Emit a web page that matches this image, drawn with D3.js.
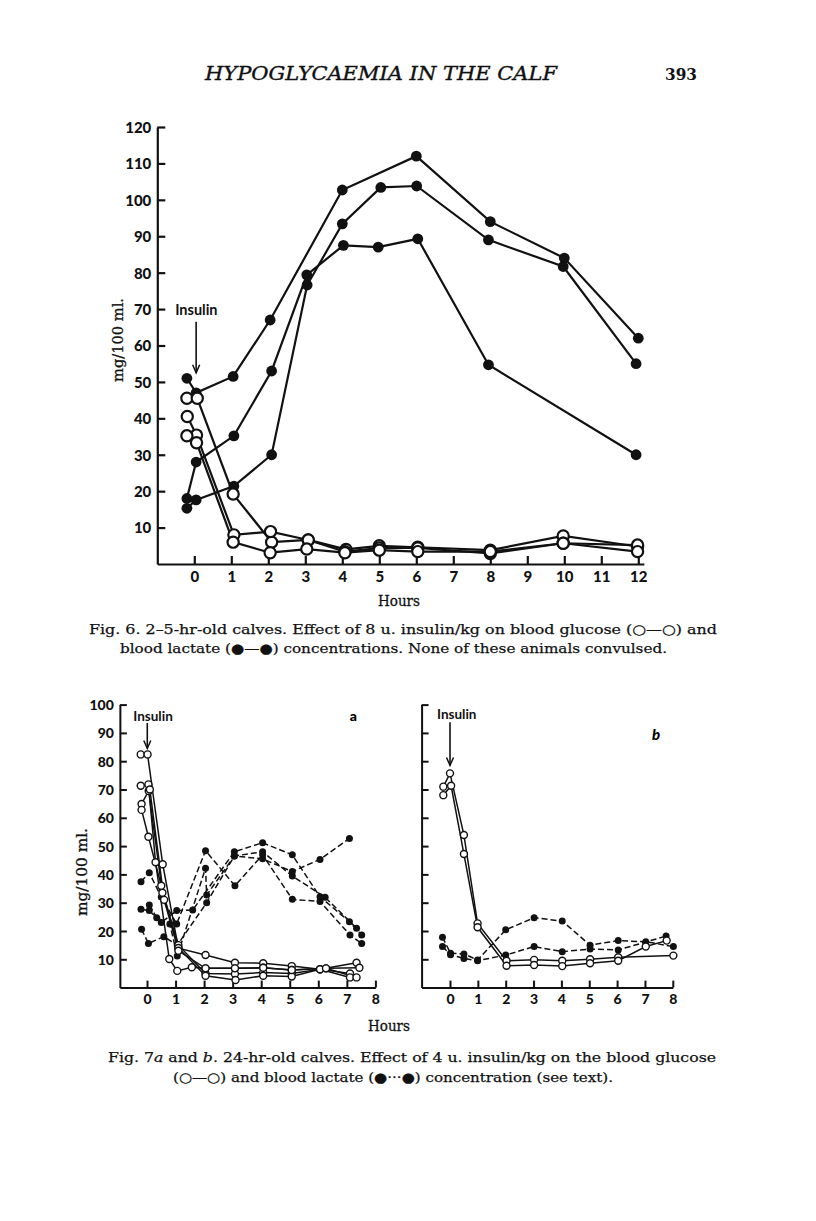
<!DOCTYPE html>
<html><head><meta charset="utf-8">
<script src="https://cdn.jsdelivr.net/npm/d3@7"></script>
<style>body{margin:0;background:#fff} svg{display:block}</style>
</head><body>
<svg id="c" width="816" height="1221"></svg>
<script>
// ---------- DATA ----------
const headerTitle = "HYPOGLYCAEMIA IN THE CALF";
const pageNumber = "393";

// Fig. 6
const fig6YTicks = [10,20,30,40,50,60,70,80,90,100,110,120];
const fig6XTicks = [0,1,2,3,4,5,6,7,8,9,10,11,12];
const fig6Lactate1 = [[-0.2,51],[0.05,47],[1.05,51.5],[2.05,67],[4,102.7],[6,112],[8,94],[10,84],[12,62]];
const fig6Lactate2 = [[-0.2,18],[0.05,28],[1.07,35.2],[2.09,53],[3.04,79.4],[4.03,87.5],[4.97,87],[6.04,89.3],[7.95,54.7],[11.94,30]];
const fig6Lactate3 = [[-0.2,15.3],[0.05,17.6],[1.07,21.4],[2.09,30],[3.05,76.6],[4,93.4],[5.04,103.4],[6.01,103.8],[7.95,89],[9.97,81.7],[11.94,55]];
const fig6Glucose1 = [[-0.2,45.5],[0.08,45.5],[1.05,19.2],[2.09,6.0],[3.08,6.6],[4.1,4.0],[5,5.0],[6.04,4.6],[8,3.8],[9.97,7.7],[11.98,4.8]];
const fig6Glucose2 = [[-0.19,40.5],[0.06,35.4],[1.07,8.0],[2.06,8.9],[3.08,6.6],[4.07,3.4],[5,4.4],[6.04,4.4],[8,2.9],[9.97,5.7],[11.98,5.2]];
const fig6Glucose3 = [[-0.2,35.2],[0.06,33.3],[1.05,6.0],[2.05,3.1],[3.04,4.1],[4.07,3.1],[5,3.8],[6.04,3.4],[8,3.4],[9.97,5.7],[11.98,3.4]];

// Fig. 7a
const fig7YTicks = [10,20,30,40,50,60,70,80,90,100];
const fig7XTicks = [0,1,2,3,4,5,6,7,8];
const fig7aGlucose1 = [[-0.22,82.4],[0.02,82.4],[0.55,43.6],[1.1,13.9],[2.05,11.5],[3.08,8.8],[4.07,8.6],[5.07,7.6],[6.06,6.5],[7.34,8.8]];
const fig7aGlucose2 = [[-0.22,71.3],[0.05,71.8],[0.3,44.3],[0.78,10.1],[1.06,5.9],[1.57,7.2],[2.05,6.8],[3.08,6.8],[4.07,7.0],[5.07,6.2],[6.27,6.8],[7.44,7.0]];
const fig7aGlucose3 = [[-0.19,64.9],[0.06,69.5],[0.54,33.5],[1.1,15],[2.05,5.0],[3.08,4.8],[4.07,5.3],[5.07,5.0],[6.06,6.5],[7.11,5.0]];
const fig7aGlucose4 = [[-0.19,62.8],[0.05,53.3],[0.5,36],[1.1,14],[2.05,4.2],[3.1,2.7],[4.07,4.2],[5.07,3.9],[6.06,6.5],[7.11,3.6]];
const fig7aGlucose5 = [[0.1,70],[0.6,31],[1.1,13],[2.05,6.8],[3.08,6.8],[4.07,7.0],[5.07,6.2],[6.27,6.8],[7.34,3.6]];
const fig7aLactate1 = [[-0.21,37.4],[0.08,40.6],[0.5,32],[1.04,22.5],[2.05,48.4],[3.08,36],[4.05,46.9],[5.09,31.2],[6.06,30.4],[7.11,18.6],[7.52,15.6]];
const fig7aLactate2 = [[-0.21,27.7],[0.08,27.2],[0.5,23],[1.04,27.2],[1.6,27.4],[3.06,48],[4.05,51.2],[5.09,46.9],[6.06,32.1],[7.09,23.3],[7.52,18.6]];
const fig7aLactate3 = [[-0.19,20.6],[0.05,15.6],[0.59,18],[1.06,15],[2.09,30],[3.06,46.5],[4.05,48],[5.09,39.4],[6.24,31.9],[7.34,21]];
const fig7aLactate4 = [[0.08,29.2],[0.34,24.7],[0.8,22.5],[1.06,11.2],[2.05,42.2],[2.09,32.7],[3.06,46.5],[4.05,45.5],[5.09,41],[6.06,45.3],[7.09,52.7]];

// Fig. 7b
const fig7bGlucose1 = [[-0.24,71],[0,75.7],[0.5,53.9],[0.99,22.7],[2.03,9.5],[3.02,9.8],[4.03,9.5],[5.03,10],[6.04,10.7],[8.02,11.3]];
const fig7bGlucose2 = [[-0.24,68],[0.04,71.3],[0.5,47.2],[0.99,21.3],[2.03,7.7],[3.02,8.0],[4.03,7.6],[5.03,8.6],[6.04,9.5],[7.03,14.5],[7.78,16.6]];
const fig7bLactate1 = [[-0.27,17.8],[0.02,12.1],[0.5,11.9],[0.99,9.75],[2.0,20.4],[3.02,24.7],[4.03,23.5],[5.03,15],[6.04,16.6],[7.03,16.2],[8.02,14.5]];
const fig7bLactate2 = [[-0.27,14.5],[0.02,11.6],[0.5,10.3],[0.99,9.5],[2.0,11.5],[3.02,14.5],[4.03,12.7],[5.03,13.6],[6.04,13.3],[7.76,18.2]];

const yLabel = "mg/100 ml.";
const xLabel = "Hours";
const insulinLabel = "Insulin";

// ---------- DRAW ----------
const svg = d3.select("#c");
const tickFont = "Lato, 'Open Sans', sans-serif";
const serif = "'DejaVu Serif', 'Liberation Serif', serif";
const ink = "#111";

function panel(o) {
  const g = svg.append("g");
  const x = d3.scaleLinear().domain(o.xd).range(o.xr);
  const y = d3.scaleLinear().domain(o.yd).range(o.yr);
  const ya = d3.axisLeft(y).tickValues(o.yTicks).tickSizeInner(-o.tick).tickSizeOuter(0).tickPadding(o.pad)
    .tickFormat(o.yLabels ? d3.format("d") : () => "");
  const xa = d3.axisBottom(x).tickValues(o.xTicks).tickSizeInner(-o.tick).tickSizeOuter(0).tickPadding(o.xpad)
    .tickFormat(d3.format("d"));
  const gy = g.append("g").attr("transform", `translate(${x(o.xd[0])},0)`).call(ya);
  const gx = g.append("g").attr("transform", `translate(0,${y(0)})`).call(xa);
  [gy, gx].forEach(a => {
    a.selectAll("path.domain").attr("stroke", ink).attr("stroke-width", o.aw);
    a.selectAll(".tick line").attr("stroke", ink).attr("stroke-width", o.aw);
    a.selectAll(".tick text").attr("fill", ink).attr("font-family", tickFont)
      .attr("font-weight", 900).attr("font-size", o.fs);
  });
  gy.selectAll(".tick text").attr("dy", "0.36em");
  const line = d3.line().x(d => x(d[0])).y(d => y(d[1]));
  (o.lact || []).forEach(s => g.append("path").attr("d", line(s)).attr("fill", "none")
    .attr("stroke", ink).attr("stroke-width", o.lw).attr("stroke-dasharray", o.dash || null));
  (o.gluc || []).forEach(s => g.append("path").attr("d", line(s)).attr("fill", "none")
    .attr("stroke", ink).attr("stroke-width", o.lw));
  (o.lact || []).forEach(s => g.selectAll(null).data(s).enter().append("circle")
    .attr("cx", d => x(d[0])).attr("cy", d => y(d[1])).attr("r", o.rf).attr("fill", ink));
  (o.gluc || []).forEach(s => g.selectAll(null).data(s).enter().append("circle")
    .attr("cx", d => x(d[0])).attr("cy", d => y(d[1])).attr("r", o.ro).attr("fill", "#fff")
    .attr("stroke", ink).attr("stroke-width", o.cw));
  const ax = x(o.arrow[0]);
  g.append("line").attr("x1", ax).attr("x2", ax).attr("y1", y(o.arrow[1])).attr("y2", y(o.arrow[2]))
    .attr("stroke", ink).attr("stroke-width", 1.6);
  const ty = y(o.arrow[2]);
  g.append("path").attr("d", `M${ax-3.5},${ty-8} L${ax},${ty} L${ax+3.5},${ty-8}`)
    .attr("fill", "none").attr("stroke", ink).attr("stroke-width", 1.5);
  g.append("text").attr("x", ax + o.textDx).attr("y", y(o.arrow[3])).text(insulinLabel)
    .attr("font-family", tickFont).attr("font-weight", 700).attr("font-size", o.ifs).attr("fill", ink);
  return {x, y, g};
}

const p6 = panel({
  xd: [-1, 12.15], xr: [157.3, 157.3 + 13.15 * 37], yd: [0, 120], yr: [564, 127],
  yTicks: fig6YTicks, xTicks: fig6XTicks, yLabels: true, tick: 8, pad: 6, xpad: 7, aw: 2.2, fs: 15,
  lact: [fig6Lactate1, fig6Lactate2, fig6Lactate3], gluc: [fig6Glucose1, fig6Glucose2, fig6Glucose3],
  lw: 2.2, rf: 5.4, ro: 5.6, cw: 2.2,
  arrow: [0.05, 66.5, 52.5, 68.5], textDx: -21, ifs: 14.5
});
const p7a = panel({
  xd: [-0.95, 8], xr: [147 - 0.95 * 28.55, 147 + 8 * 28.55], yd: [0, 100], yr: [987.6, 704.6],
  yTicks: fig7YTicks, xTicks: fig7XTicks, yLabels: true, tick: 7, pad: 6, xpad: 6, aw: 2, fs: 14,
  lact: [fig7aLactate1, fig7aLactate2, fig7aLactate3, fig7aLactate4],
  gluc: [fig7aGlucose1, fig7aGlucose2, fig7aGlucose3, fig7aGlucose4, fig7aGlucose5],
  lw: 1.5, dash: "6,3", rf: 3.5, ro: 3.5, cw: 1.4,
  arrow: [0.01, 93.5, 84.5, 94.3], textDx: -14, ifs: 13.5
});
const p7b = panel({
  xd: [-1.02, 8], xr: [450 - 1.02 * 27.85, 450 + 8 * 27.85], yd: [0, 100], yr: [987.6, 704.6],
  yTicks: fig7YTicks, xTicks: fig7XTicks, yLabels: false, tick: 7, pad: 6, xpad: 6, aw: 2, fs: 14,
  lact: [fig7bLactate1, fig7bLactate2], gluc: [fig7bGlucose1, fig7bGlucose2],
  lw: 1.5, dash: "6,3", rf: 3.5, ro: 3.5, cw: 1.4,
  arrow: [0, 93.8, 78.5, 95], textDx: -13, ifs: 13.5
});

svg.append("text").attr("x", p7a.x(7.1)).attr("y", p7a.y(94.2)).text("a")
  .attr("font-family", tickFont).attr("font-weight", 900).attr("font-size", 14);
svg.append("text").attr("x", p7b.x(7.25)).attr("y", p7b.y(87.5)).text("b")
  .attr("font-family", tickFont).attr("font-weight", 900).attr("font-style", "italic").attr("font-size", 15);

function ylab(cx, cy, len, fs) {
  svg.append("text").attr("transform", `translate(${cx},${cy}) rotate(-90)`).attr("text-anchor", "middle")
    .attr("font-family", serif).attr("font-size", fs).attr("fill", ink).text(yLabel)
    .attr("stroke", ink).attr("stroke-width", 0.3)
    .attr("textLength", len).attr("lengthAdjust", "spacingAndGlyphs");
}
ylab(123, 340, 84, 15);
ylab(87, 872, 88, 15);
function xlab(cx, cy) {
  svg.append("text").attr("x", cx).attr("y", cy).attr("text-anchor", "middle").attr("font-family", serif)
    .attr("font-size", 14.5).attr("fill", ink).attr("stroke", ink).attr("stroke-width", 0.3).text(xLabel)
    .attr("textLength", 42).attr("lengthAdjust", "spacingAndGlyphs");
}
xlab(399, 606);
xlab(389, 1031);

svg.append("text").attr("x", 205).attr("y", 80).attr("font-family", serif).attr("font-style", "italic")
  .attr("font-size", 18).attr("fill", ink).attr("stroke", ink).attr("stroke-width", 0.35).text(headerTitle)
  .attr("textLength", 352).attr("lengthAdjust", "spacingAndGlyphs");
svg.append("text").attr("x", 665).attr("y", 80).attr("font-family", serif).attr("font-weight", 700)
  .attr("font-size", 17).attr("fill", ink).text(pageNumber).attr("textLength", 32).attr("lengthAdjust", "spacingAndGlyphs");

function cap(x, y, len, parts) {
  const t = svg.append("text").attr("x", x).attr("y", y).attr("font-family", serif).attr("font-size", 13.5)
    .attr("fill", ink).attr("stroke", ink).attr("stroke-width", 0.25)
    .attr("textLength", len).attr("lengthAdjust", "spacingAndGlyphs");
  parts.forEach(p => t.append("tspan").text(p[0]).attr("font-style", p[1] ? "italic" : null));
}
cap(89, 634, 628, [["Fig. 6.  2\u20135-hr-old calves. Effect of 8 u. insulin/kg on blood glucose (\u25CB\u2014\u25CB) and"]]);
cap(120, 653, 547, [["blood lactate (\u25CF\u2014\u25CF) concentrations. None of these animals convulsed."]]);
cap(108, 1062, 608, [["Fig. 7"], ["a", true], [" and "], ["b", true], [".  24-hr-old calves. Effect of 4 u. insulin/kg on the blood glucose"]]);
cap(173, 1082, 440, [["(\u25CB\u2014\u25CB) and blood lactate (\u25CF\u00B7\u00B7\u00B7\u25CF) concentration (see text)."]]);
</script>
</body></html>
